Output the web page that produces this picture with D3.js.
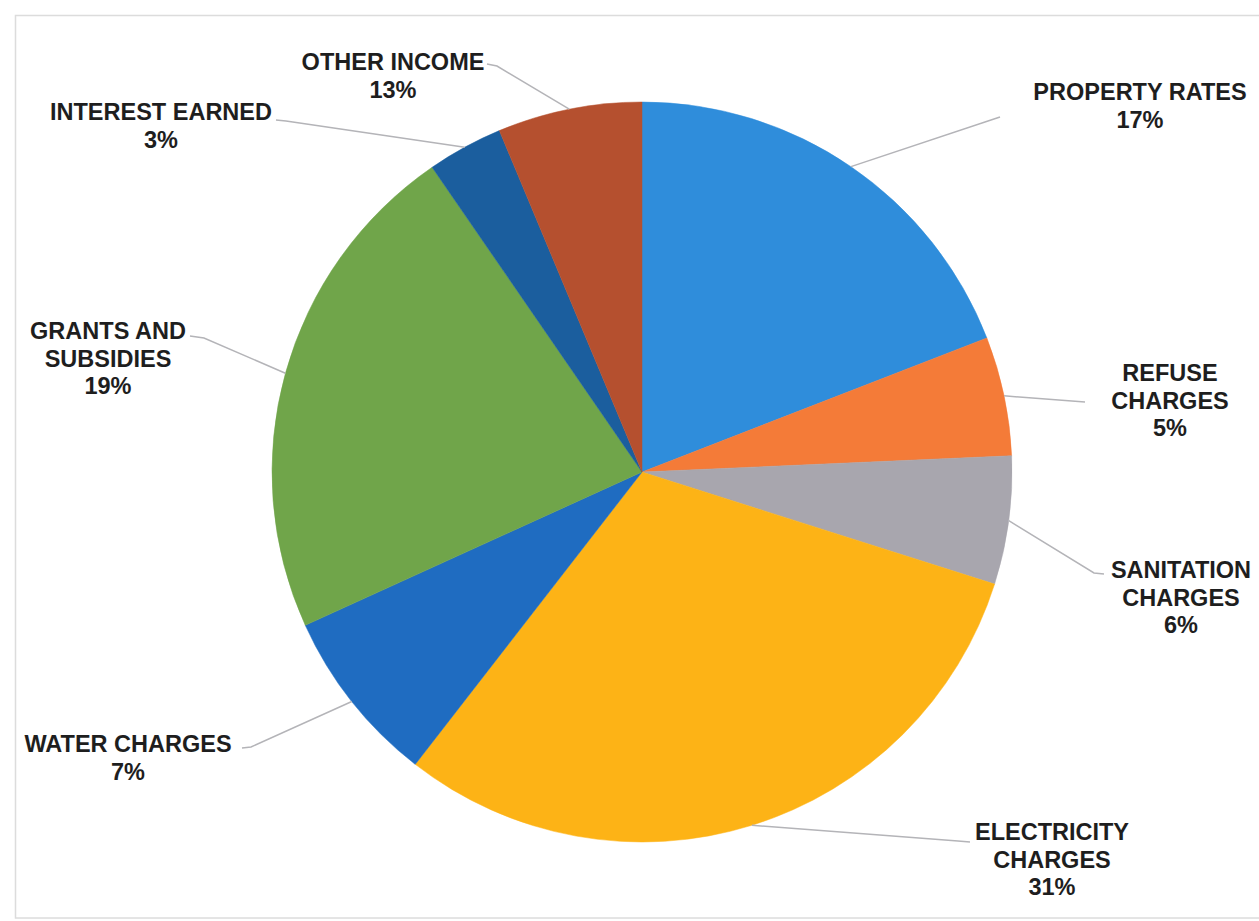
<!DOCTYPE html>
<html>
<head>
<meta charset="utf-8">
<script src="https://cdn.jsdelivr.net/npm/d3@7"></script>
<style>
  html, body { margin: 0; padding: 0; background: #fff; }
  svg { display: block; }
</style>
</head>
<body>
<svg id="chart" width="1259" height="921"></svg>
<script>
// ---- data ----
const categories = ["PROPERTY RATES", "REFUSE CHARGES", "SANITATION CHARGES", "ELECTRICITY CHARGES",
                    "WATER CHARGES", "GRANTS AND SUBSIDIES", "INTEREST EARNED", "OTHER INCOME"];
const sliceValues = [19.1, 5.2, 5.6, 30.6, 7.7, 22.2, 3.3, 6.3];      // slice sizes as drawn
const labelPercents = ["17%", "5%", "6%", "31%", "7%", "19%", "3%", "13%"]; // printed labels
const labelLines = [
  ["PROPERTY RATES"],
  ["REFUSE", "CHARGES"],
  ["SANITATION", "CHARGES"],
  ["ELECTRICITY", "CHARGES"],
  ["WATER CHARGES"],
  ["GRANTS AND", "SUBSIDIES"],
  ["INTEREST EARNED"],
  ["OTHER INCOME"]
];

// ---- styles / layout ----
const colors = ["#2f8ddb", "#f47b38", "#a8a6ae", "#fdb316", "#1f6cc1", "#70a54a", "#1b5e9e", "#b5502f"];
const cx = 642, cy = 472, R = 370;
// label block: center x, first baseline y ; leader start + elbow
const labelLayout = [
  { x: 1140, y: 100, lead: [[1000, 117]] },
  { x: 1170, y: 381, lead: [[1085, 402]] },
  { x: 1181, y: 578, lead: [[1104, 574], [1094, 573]] },
  { x: 1052, y: 840, lead: [[970, 842], [958, 841]] },
  { x: 128,  y: 752, lead: [[242, 748], [251, 747]] },
  { x: 108,  y: 339, lead: [[190, 336], [204, 338]] },
  { x: 161,  y: 120, lead: [[276, 120], [286, 121]] },
  { x: 393,  y: 70,  lead: [[487, 64], [497, 66]] }
];
const lineH = 27.5;

const svg = d3.select("#chart");

// frame
svg.append("rect")
  .attr("x", 15.5).attr("y", 15.5)
  .attr("width", 1300).attr("height", 902.5)
  .attr("fill", "none").attr("stroke", "#dcdcdc").attr("stroke-width", 1.5);

const pie = d3.pie().sort(null).value(d => d);
const arcs = pie(sliceValues);
const arc = d3.arc().innerRadius(0).outerRadius(R);
const edgeArc = d3.arc().innerRadius(R).outerRadius(R);

const g = svg.append("g").attr("transform", `translate(${cx},${cy})`);

g.selectAll("path.slice")
  .data(arcs)
  .enter().append("path")
  .attr("class", "slice")
  .attr("d", arc)
  .attr("fill", (d, i) => colors[i])
  .attr("stroke", (d, i) => colors[i])
  .attr("stroke-width", 0.5);

// leader lines
const lineGen = d3.line();
arcs.forEach((d, i) => {
  const c = edgeArc.centroid(d);
  const pts = labelLayout[i].lead.map(p => [p[0], p[1]]);
  pts.push([c[0] + cx, c[1] + cy]);
  svg.append("path")
    .attr("d", lineGen(pts))
    .attr("fill", "none")
    .attr("stroke", "#b4b4b8")
    .attr("stroke-width", 1.5);
});

// labels
categories.forEach((cat, i) => {
  const L = labelLayout[i];
  const lines = labelLines[i].concat([labelPercents[i]]);
  const t = svg.append("text")
    .attr("text-anchor", "middle")
    .attr("font-family", "'Liberation Sans', Arial, sans-serif")
    .attr("font-weight", "bold")
    .attr("font-size", 23.5)
    .attr("fill", "#1e1e1e");
  lines.forEach((ln, j) => {
    t.append("tspan").attr("x", L.x).attr("y", L.y + j * lineH).text(ln);
  });
});
</script>
</body>
</html>
